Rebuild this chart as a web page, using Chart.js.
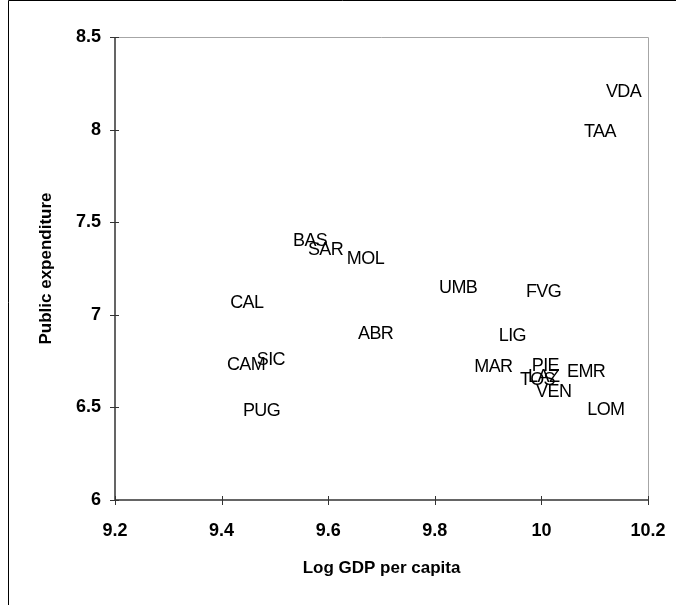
<!DOCTYPE html>
<html>
<head>
<meta charset="utf-8">
<script src="https://cdn.jsdelivr.net/npm/chart.js@4.4.1/dist/chart.umd.min.js"></script>
<style>
    html, body { margin: 0; padding: 0; background: #fff; }
    #wrap { position: relative; width: 676px; height: 605px; }
</style>
</head>
<body>
<div id="wrap"><canvas id="chart" width="676" height="605"></canvas></div>
<script>
// Region codes and their values (log GDP per capita, public expenditure)
const regions = ['VDA', 'TAA', 'BAS', 'SAR', 'MOL', 'CAL', 'ABR', 'CAM', 'SIC', 'PUG',
    'UMB', 'FVG', 'LIG', 'MAR', 'PIE', 'TOS', 'LAZ', 'EMR', 'VEN', 'LOM'];
const logGdp = [10.121, 10.080, 9.534, 9.562, 9.635, 9.416, 9.656, 9.410, 9.466, 9.440,
    9.808, 9.971, 9.920, 9.874, 9.982, 9.960, 9.975, 10.048, 9.990, 10.086];
const publicExp = [8.203, 7.987, 7.399, 7.350, 7.301, 7.064, 6.896, 6.729, 6.756, 6.481,
    7.145, 7.123, 6.886, 6.718, 6.724, 6.648, 6.664, 6.691, 6.583, 6.486];

// Axis ticks and titles
const xTicks = [9.2, 9.4, 9.6, 9.8, 10, 10.2];
const yTicks = [6, 6.5, 7, 7.5, 8, 8.5];
const xTitle = 'Log GDP per capita';
const yTitle = 'Public expenditure';

const points = logGdp.map(function(x, i) {
    return { x: x, y: publicExp[i] };
});

const FONT = '"Liberation Sans", Arial, sans-serif';

// Draws region codes at each point (markers are hidden)
const labelPlugin = {
    id: 'regionLabels',
    afterDatasetsDraw(chart) {
        const ctx = chart.ctx;
        const meta = chart.getDatasetMeta(0);
        ctx.save();
        ctx.fillStyle = '#000';
        ctx.font = '18px ' + FONT;
        ctx.textAlign = 'left';
        ctx.textBaseline = 'middle';
        if ('letterSpacing' in ctx) ctx.letterSpacing = '-0.6px';
        meta.data.forEach(function(pt, i) {
            ctx.fillText(regions[i], pt.x, pt.y);
        });
        ctx.restore();
    }
};

// Excel style plot frame: dark axes left/bottom, grey border top/right, crossing ticks, titles
const framePlugin = {
    id: 'frame',
    afterDraw(chart) {
        const ctx = chart.ctx;
        const a = chart.chartArea;
        const xs = chart.scales.x;
        const ys = chart.scales.y;
        ctx.save();
        // outer chart border
        ctx.strokeStyle = '#000';
        ctx.lineWidth = 1;
        ctx.beginPath();
        ctx.moveTo(8.5, 605);
        ctx.lineTo(8.5, 0.5);
        ctx.lineTo(676, 0.5);
        ctx.stroke();
        // grey plot border
        ctx.strokeStyle = '#a6a6a6';
        ctx.beginPath();
        ctx.moveTo(a.left, a.top + 0.5);
        ctx.lineTo(a.right + 0.5, a.top + 0.5);
        ctx.lineTo(a.right + 0.5, a.bottom);
        ctx.stroke();
        // axes
        ctx.strokeStyle = '#333';
        ctx.lineWidth = 1.5;
        ctx.beginPath();
        ctx.moveTo(a.left, a.top);
        ctx.lineTo(a.left, a.bottom);
        ctx.lineTo(a.right, a.bottom);
        ctx.stroke();
        // tick marks
        ctx.lineWidth = 1;
        ctx.beginPath();
        yTicks.forEach(function(v) {
            const y = Math.round(ys.getPixelForValue(v)) + 0.5;
            ctx.moveTo(a.left - 5, y);
            ctx.lineTo(a.left + 4, y);
        });
        xTicks.forEach(function(v) {
            const x = Math.round(xs.getPixelForValue(v)) + 0.5;
            ctx.moveTo(x, a.bottom - 4);
            ctx.lineTo(x, a.bottom + 5);
        });
        ctx.stroke();
        // axis titles
        ctx.fillStyle = '#000';
        ctx.font = 'bold 17px ' + FONT;
        ctx.textAlign = 'center';
        ctx.textBaseline = 'middle';
        ctx.fillText(xTitle, (a.left + a.right) / 2, 568);
        ctx.translate(46, (a.top + a.bottom) / 2);
        ctx.rotate(-Math.PI / 2);
        ctx.fillText(yTitle, 0, 0);
        ctx.restore();
    }
};

const tickFont = { family: FONT, size: 18, weight: 'bold' };

new Chart(document.getElementById('chart').getContext('2d'), {
    type: 'scatter',
    data: {
        datasets: [{
            data: points,
            pointRadius: 0,
            pointHoverRadius: 0,
            showLine: false
        }]
    },
    options: {
        responsive: false,
        animation: false,
        events: [],
        layout: { padding: { left: 0, top: 37, right: 28, bottom: 0 } },
        plugins: {
            legend: { display: false },
            tooltip: { enabled: false }
        },
        scales: {
            x: {
                type: 'linear',
                min: 9.2,
                max: 10.2,
                afterBuildTicks(scale) {
                    scale.ticks = xTicks.map(function(v) { return { value: v }; });
                },
                afterFit(scale) {
                    scale.height = 105;
                    // let the last tick label overhang, like the original
                    scale.paddingLeft = 0;
                    scale.paddingRight = 0;
                },
                grid: { display: false, drawTicks: false },
                border: { display: false },
                ticks: {
                    color: '#000',
                    font: tickFont,
                    padding: 20,
                    maxRotation: 0,
                    callback: function(v) { return String(v); }
                }
            },
            y: {
                type: 'linear',
                min: 6,
                max: 8.5,
                afterBuildTicks(scale) {
                    scale.ticks = yTicks.map(function(v) { return { value: v }; });
                },
                afterFit(scale) {
                    scale.width = 115;
                    scale.paddingTop = 0;
                    scale.paddingBottom = 0;
                },
                grid: { display: false, drawTicks: false },
                border: { display: false },
                ticks: {
                    color: '#000',
                    font: tickFont,
                    padding: 14,
                    callback: function(v) { return String(v); }
                }
            }
        }
    },
    plugins: [labelPlugin, framePlugin]
});
</script>
</body>
</html>
